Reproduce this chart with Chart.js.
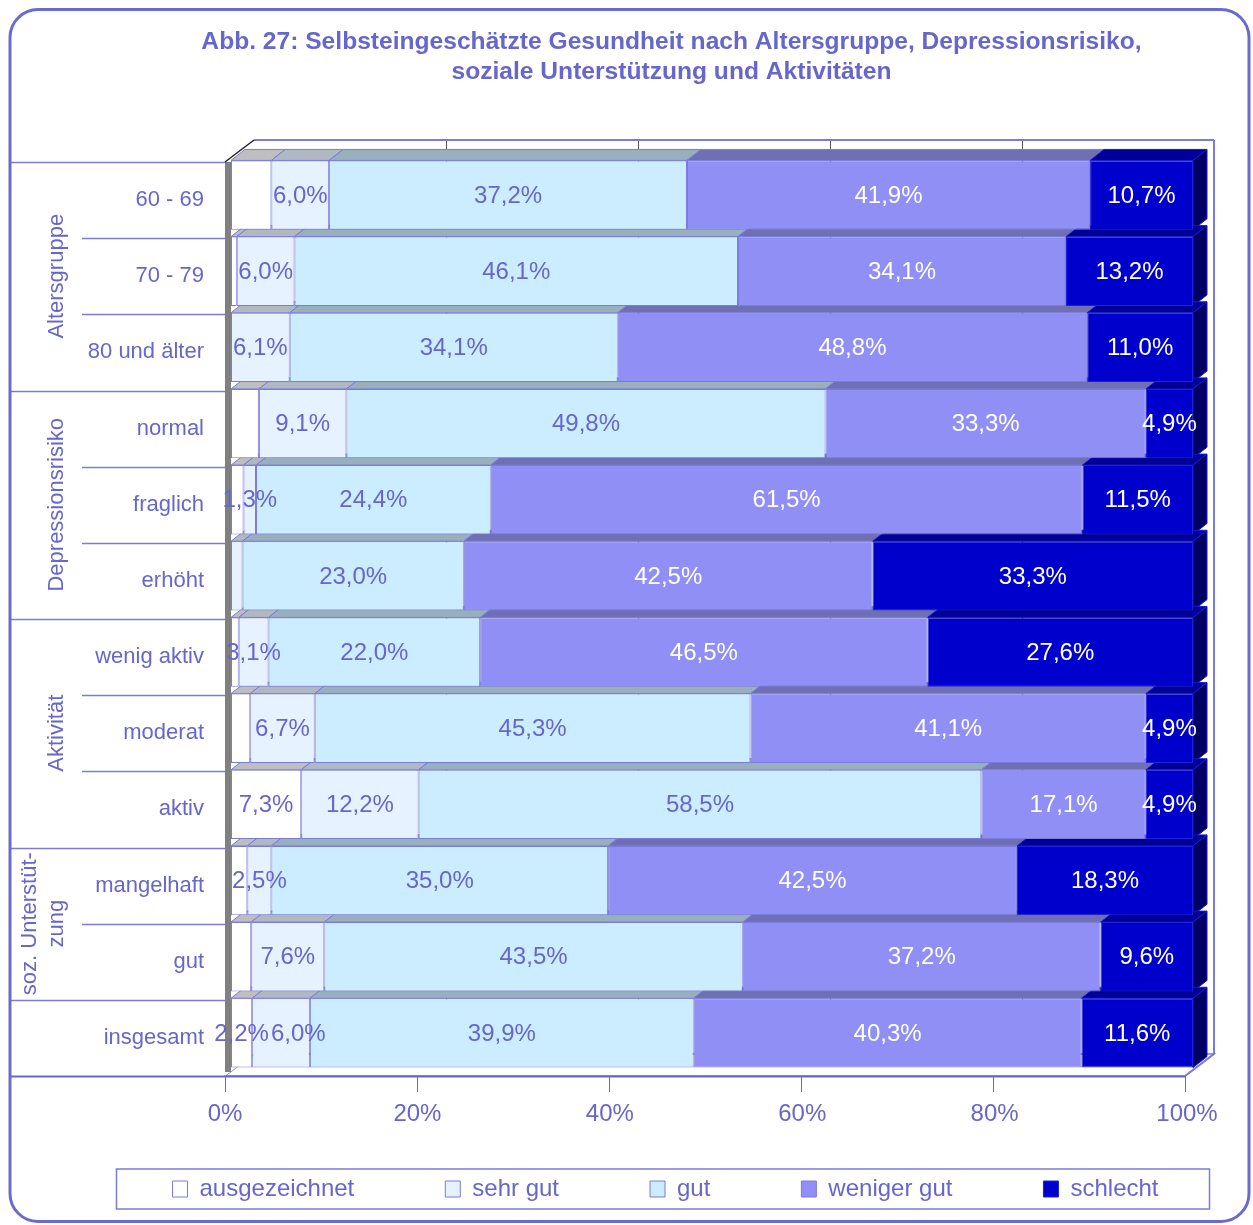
<!DOCTYPE html>
<html><head><meta charset="utf-8">
<script src="https://cdn.jsdelivr.net/npm/chart.js@4/dist/chart.umd.min.js"></script>
<style>html,body{margin:0;padding:0;background:#fff;}#wrap{position:relative;width:1253px;height:1225px;}</style>
</head><body><div id="wrap"><canvas id="c" width="1253" height="1225"></canvas></div>
<script>
// ---------- data ----------
const categories = ['60 - 69','70 - 79','80 und älter','normal','fraglich','erhöht','wenig aktiv','moderat','aktiv','mangelhaft','gut','insgesamt'];
const groupNames = [['Altersgruppe'],['Depressionsrisiko'],['Aktivität'],['soz. Unterstüt-','zung'],[]];
const groupSizes = [3,3,3,2,1];
const seriesNames = ['ausgezeichnet','sehr gut','gut','weniger gut','schlecht'];
const ausgezeichnet = [4.2,0.6,0,2.9,1.3,0,0.8,2.0,7.3,1.7,2.1,2.2];
const sehrGut      = [6.0,6.0,6.1,9.1,1.3,1.2,3.1,6.7,12.2,2.5,7.6,6.0];
const gut          = [37.2,46.1,34.1,49.8,24.4,23.0,22.0,45.3,58.5,35.0,43.5,39.9];
const wenigerGut   = [41.9,34.1,48.8,33.3,61.5,42.5,46.5,41.1,17.1,42.5,37.2,40.3];
const schlecht     = [10.7,13.2,11.0,4.9,11.5,33.3,27.6,4.9,4.9,18.3,9.6,11.6];
const ausgezeichnetLabeled = [false,false,false,false,false,false,false,false,true,false,false,true];
const sehrGutLabeled = [true,true,true,true,true,false,true,true,true,true,true,true];
const xTicks = [0,20,40,60,80,100];
const titleLines = ['Abb. 27: Selbsteingeschätzte Gesundheit nach Altersgruppe, Depressionsrisiko,','soziale Unterstützung und Aktivitäten'];

// ---------- style ----------
const TXT = '#6666CC';
const LINE = '#7B7BDD';
const FONT = "'Liberation Sans', Arial, sans-serif";
const fills = ['#FFFFFF','#E6F2FF','#CCECFF','#8F8FF5','#0000CC'];
const borders = [LINE, LINE, LINE, LINE, '#2020D8'];
const tops = ['#BEBEBE','#B0B8C2','#98AFBE','#6F6FB4','#000096'];
const sideColor = '#000064';
const labelColors = [TXT, TXT, TXT, '#FFFFFF', '#FFFFFF'];
const seriesData = [ausgezeichnet, sehrGut, gut, wenigerGut, schlecht];
const allTrue = categories.map(() => true);
const labeledFlags = [ausgezeichnetLabeled, sehrGutLabeled, allTrue, allTrue, allTrue];
const BD = {x: 14, y: -11};   // bar depth
const WD = {x: 29, y: -22};   // wall depth
const FO = {x: -6, y: 5};     // front plane offset from bar fronts

const fmt = v => v.toFixed(1).replace('.', ',') + '%';

function poly(ctx, pts, fill, stroke, lw) {
  ctx.beginPath();
  ctx.moveTo(pts[0][0], pts[0][1]);
  for (let i = 1; i < pts.length; i++) ctx.lineTo(pts[i][0], pts[i][1]);
  ctx.closePath();
  if (fill) { ctx.fillStyle = fill; ctx.fill(); }
  if (stroke) { ctx.strokeStyle = stroke; ctx.lineWidth = lw || 1; ctx.stroke(); }
}
function seg(ctx, x1, y1, x2, y2, color, lw) {
  ctx.beginPath(); ctx.moveTo(x1, y1); ctx.lineTo(x2, y2);
  ctx.strokeStyle = color; ctx.lineWidth = lw || 1; ctx.stroke();
}
function frontPlane(chart) {
  const {chartArea: ca, scales: {x}} = chart;
  const fl = x.getPixelForValue(0) + FO.x;
  const fr = x.getPixelForValue(100) + FO.x - 2;
  const ft = ca.top + FO.y, fb = ca.bottom + FO.y;
  return {fl, fr, ft, fb, rowH: (fb - ft) / categories.length};
}

const plugin3d = {
  id: 'threeD',
  afterLayout(chart) {
    // let the x tick labels extend below the (deliberately thin) axis box
    const xs = chart.scales.x;
    xs.bottom = xs.top + 62;
    // nudge the centred title slightly to the right
    if (chart.titleBlock) chart.titleBlock.left += 12;
  },
  beforeDraw(chart) {
    const ctx = chart.ctx;
    ctx.save(); ctx.fillStyle = '#fff'; ctx.fillRect(0, 0, chart.width, chart.height); ctx.restore();
  },
  beforeDatasetsDraw(chart) {
    const ctx = chart.ctx;
    const {fl, fr, ft, fb} = frontPlane(chart);
    ctx.save();
    // back wall
    poly(ctx, [[fl+WD.x, ft+WD.y],[fr+WD.x, ft+WD.y],[fr+WD.x, fb+WD.y],[fl+WD.x, fb+WD.y]], '#fff');
    xTicks.forEach(v => {
      if (v === 0 || v === 100) return;
      const px = Math.round(fl + WD.x + (fr - fl) * v / 100) + 0.5;
      seg(ctx, px, ft + WD.y, px, fb + WD.y, '#555', 1);
    });
    seg(ctx, fl+WD.x, ft+WD.y, fr+WD.x, ft+WD.y, LINE, 2);
    seg(ctx, fr+WD.x, ft+WD.y, fr+WD.x, fb+WD.y, LINE, 2);
    // floor
    poly(ctx, [[fl, fb],[fr, fb],[fr+WD.x, fb+WD.y],[fl+WD.x, fb+WD.y]], '#fff', LINE, 1.5);
    // left wall
    poly(ctx, [[fl, ft],[fl+WD.x, ft+WD.y],[fl+WD.x, fb+WD.y],[fl, fb]], '#fff');
    ctx.fillStyle = '#808080';
    ctx.fillRect(fl, ft, 6, fb - ft - 4);
    seg(ctx, fl, ft, fl+WD.x, ft+WD.y, '#222', 1.5);
    // bar 3D faces
    for (let i = 0; i < categories.length; i++) {
      let last = -1;
      seriesData.forEach((arr, d) => { if (arr[i] > 0) last = d; });
      seriesData.forEach((arr, d) => {
        if (!(arr[i] > 0)) return;
        const el = chart.getDatasetMeta(d).data[i];
        const p = el.getProps(['x','base','y','height'], true);
        const xs = Math.min(p.x, p.base), xe = Math.max(p.x, p.base);
        const yt = p.y - p.height / 2, yb = p.y + p.height / 2;
        poly(ctx, [[xs, yt],[xe, yt],[xe+BD.x, yt+BD.y],[xs+BD.x, yt+BD.y]], tops[d], d === 4 ? '#1818C8' : LINE, 1);
        if (d === last) {
          poly(ctx, [[xe, yt],[xe+BD.x, yt+BD.y],[xe+BD.x, yb+BD.y],[xe, yb]], sideColor, '#1818D0', 1);
        }
      });
    }
    ctx.restore();
  },
  afterDatasetsDraw(chart) {
    const ctx = chart.ctx;
    ctx.save();
    ctx.font = '24px ' + FONT;
    ctx.textBaseline = 'middle';
    ctx.textAlign = 'center';
    categories.forEach((c, i) => {
      let prevRight = -Infinity;
      seriesData.forEach((arr, d) => {
        const v = arr[i];
        if (!(v > 0) || !labeledFlags[d][i]) return;
        const el = chart.getDatasetMeta(d).data[i];
        const p = el.getProps(['x','base','y'], true);
        const txt = fmt(v);
        const w = ctx.measureText(txt).width;
        let cx = (p.x + p.base) / 2;
        if (cx - w / 2 < prevRight + 2) cx = prevRight + 2 + w / 2;
        ctx.fillStyle = labelColors[d];
        ctx.fillText(txt, cx, p.y + 1);
        prevRight = cx + w / 2;
      });
    });
    ctx.restore();
  },
  afterDraw(chart) {
    const ctx = chart.ctx;
    const {fl, fr, ft, fb, rowH} = frontPlane(chart);
    ctx.save();
    // table lines
    const groupStarts = [];
    let acc = 0;
    groupSizes.forEach(s => { groupStarts.push(acc); acc += s; });
    for (let k = 0; k <= categories.length; k++) {
      const yy = Math.round(ft + k * rowH) + 0.5;
      const isGroup = k === categories.length || groupStarts.includes(k);
      seg(ctx, isGroup ? 10 : 82, yy, fl, yy, k === categories.length ? TXT : LINE, k === categories.length ? 2 : 1.5);
    }
    // floor front edge
    seg(ctx, fl, fb + 0.5, fr, fb + 0.5, TXT, 2);
    seg(ctx, fr, fb, fr + WD.x, fb + WD.y, LINE, 2);
    // tick marks
    xTicks.forEach(v => {
      const px = Math.round(fl + (fr - fl) * v / 100) + 0.5;
      seg(ctx, px, fb, px, fb + 16, TXT, 1);
    });
    // group labels
    ctx.font = '22px ' + FONT;
    ctx.fillStyle = TXT;
    ctx.textAlign = 'center';
    ctx.textBaseline = 'middle';
    groupNames.forEach((lines, g) => {
      if (!lines.length) return;
      const cy = ft + (groupStarts[g] + groupSizes[g] / 2) * rowH;
      const xs = lines.length === 1 ? [57] : [30, 57];
      lines.forEach((t, j) => {
        ctx.save();
        ctx.translate(xs[j], cy);
        ctx.rotate(-Math.PI / 2);
        ctx.fillText(t, 0, 0);
        ctx.restore();
      });
    });
    // legend border
    const hb = chart.legend.legendHitBoxes;
    if (hb && hb.length) {
      const cyL = hb[0].top + hb[0].height / 2;
      ctx.strokeStyle = LINE; ctx.lineWidth = 1.5;
      ctx.strokeRect(116.5, cyL - 20, 1209 - 116, 40);
    }
    // outer rounded frame
    ctx.beginPath();
    ctx.roundRect(10, 9.5, 1239, 1212, 28);
    ctx.strokeStyle = '#6A6ACF'; ctx.lineWidth = 3; ctx.stroke();
    ctx.restore();
  }
};

new Chart(document.getElementById('c'), {
  type: 'bar',
  data: {
    labels: categories,
    datasets: seriesData.map((arr, i) => ({
      label: seriesNames[i], data: arr,
      backgroundColor: fills[i], borderColor: borders[i], borderWidth: 1,
      borderSkipped: false, barPercentage: 0.91, categoryPercentage: 1, clip: false
    }))
  },
  options: {
    indexAxis: 'y', responsive: false, animation: false, devicePixelRatio: 1,
    layout: {padding: {left: 78, right: 0, top: 0, bottom: 14}},
    scales: {
      x: {
        stacked: true, min: 0, max: 100,
        grid: {display: false, drawTicks: false}, border: {display: false},
        ticks: {stepSize: 20, autoSkip: false, color: TXT, font: {family: FONT, size: 24},
          padding: 29, labelOffset: -6, maxRotation: 0, callback: v => v + '%'},
        afterFit: s => { s.height = 15; }
      },
      y: {
        stacked: true,
        grid: {display: false, drawTicks: false}, border: {display: false},
        ticks: {autoSkip: false, color: TXT, font: {family: FONT, size: 22}, padding: 27, labelOffset: 5},
        afterFit: s => { s.width = 153; }
      },
      y2: {
        type: 'category', position: 'right',
        grid: {display: false, drawTicks: false}, border: {display: false},
        ticks: {display: false},
        afterFit: s => { s.width = 60; }
      }
    },
    plugins: {
      title: {display: true, text: titleLines, color: TXT,
        font: {family: FONT, size: 24.6, weight: 'bold', lineHeight: '30px'},
        padding: {top: 27, bottom: 70}},
      legend: {position: 'bottom',
        labels: {color: TXT, font: {family: FONT, size: 24}, boxWidth: 15, boxHeight: 16, padding: 91}},
      tooltip: {enabled: false}
    }
  },
  plugins: [plugin3d]
});
</script></body></html>
